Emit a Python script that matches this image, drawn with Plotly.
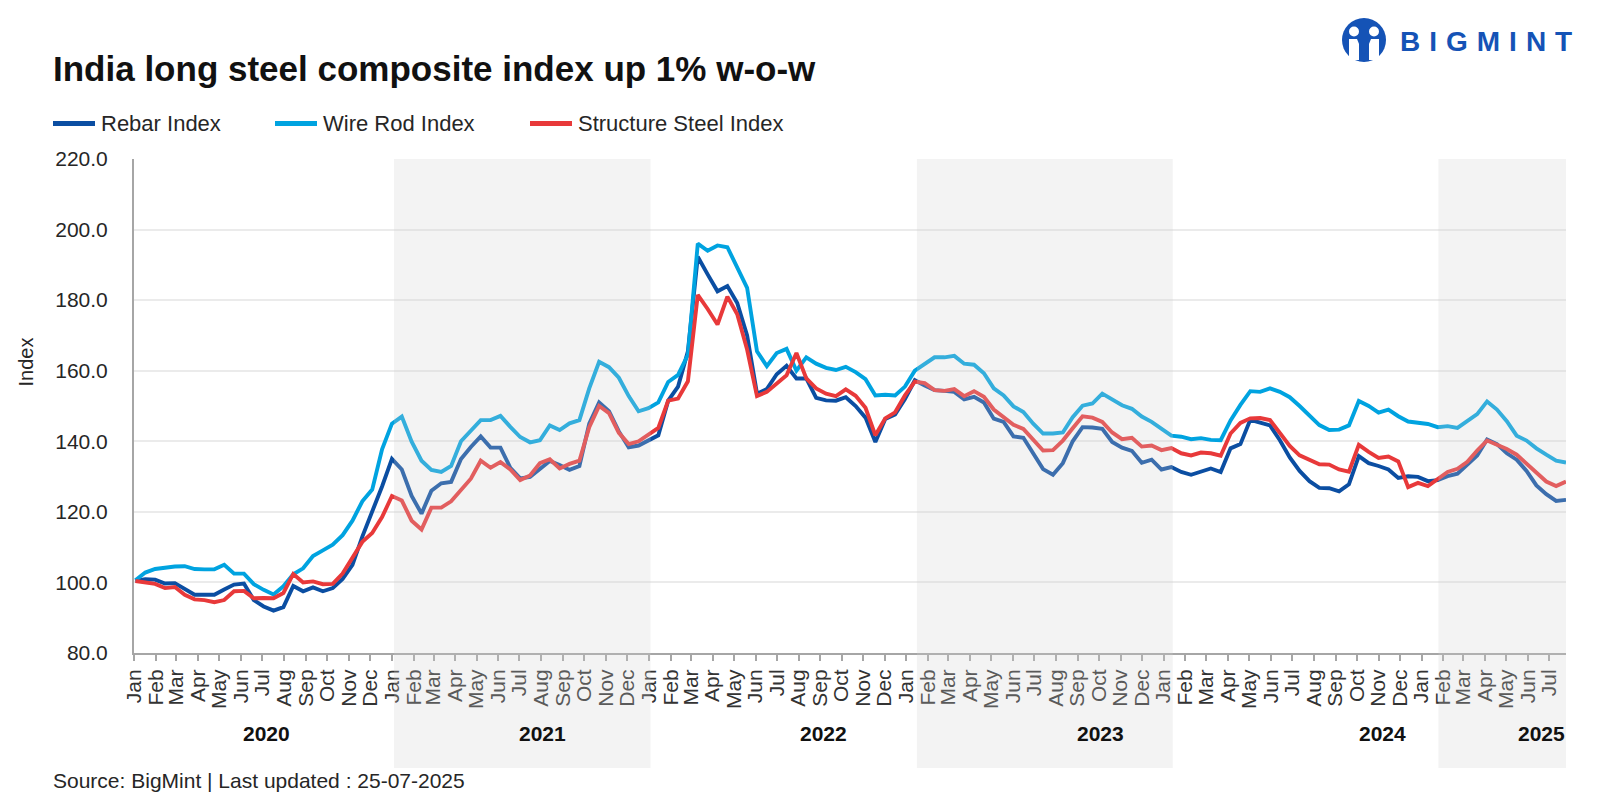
import plotly.graph_objects as go
import pandas as pd

# ---------------- data ----------------
dates = pd.date_range("2020-01-03", periods=146, freq="14D")

rebar = [
    100.4, 100.9, 100.8, 99.7, 99.8, 98.2, 96.5, 96.5, 96.5, 98.0,
    99.4, 99.7, 95.0, 93.2, 92.0, 93.0, 99.0, 97.5, 98.6, 97.5,
    98.4, 101.0, 105.0, 113.0, 120.0, 127.2, 135.0, 132.0, 124.5, 119.5,
    126.0, 128.1, 128.5, 135.0, 138.4, 141.4, 138.2, 138.2, 132.5, 129.5,
    129.9, 132.3, 134.4, 133.3, 131.9, 133.0, 145.0, 151.0, 148.5, 142.8,
    138.3, 138.8, 140.3, 141.7, 151.5, 155.5, 165.5, 192.3, 187.3, 182.5,
    184.0, 179.2, 170.0, 153.5, 154.8, 159.0, 161.4, 157.8, 157.8, 152.3,
    151.6, 151.5, 152.5, 150.0, 146.7, 139.8, 146.3, 147.6, 152.0, 157.3,
    155.8, 154.5, 154.3, 154.0, 151.9, 152.6, 151.0, 146.4, 145.5, 141.4,
    141.0, 136.6, 132.1, 130.5, 133.8, 140.0, 144.0, 143.9, 143.5, 139.8,
    138.2, 137.3, 133.9, 134.8, 132.0, 132.7, 131.3, 130.5, 131.5, 132.3,
    131.3, 138.0, 139.2, 146.1, 145.3, 144.5, 140.3, 135.4, 131.6, 128.7,
    126.8, 126.7, 125.8, 127.8, 135.8, 133.8, 133.0, 132.0, 129.6, 130.1,
    129.9, 128.7, 129.0, 130.1, 130.8, 133.4, 136.0, 140.5, 139.2, 136.6,
    134.8, 131.6, 127.5, 125.0, 123.1, 123.4,
]

wire_rod = [
    100.6, 102.8, 103.8, 104.2, 104.5, 104.6, 103.8, 103.7, 103.7, 105.0,
    102.5, 102.5, 99.5, 97.9, 96.6, 98.9, 102.3, 104.0, 107.5, 109.1,
    110.7, 113.4, 117.5, 123.0, 126.3, 137.7, 145.0, 147.0, 139.9, 134.5,
    131.9, 131.3, 133.0, 140.0, 143.0, 146.0, 146.0, 147.2, 144.1, 141.2,
    139.7, 140.3, 144.5, 143.2, 145.1, 146.0, 155.0, 162.5, 161.0, 158.0,
    152.8, 148.5, 149.4, 151.0, 156.8, 158.8, 164.5, 196.0, 194.0, 195.5,
    195.0, 189.0, 183.5, 165.5, 161.3, 165.0, 166.2, 160.0, 163.8, 162.0,
    160.8, 160.2, 161.1, 159.6, 157.6, 153.0, 153.2, 153.0, 155.5, 160.0,
    162.0, 163.8, 163.8, 164.2, 162.0, 161.7, 159.3, 155.0, 153.0, 149.9,
    148.3, 145.0, 142.2, 142.2, 142.5, 146.8, 150.1, 150.7, 153.5, 151.8,
    150.2, 149.2, 147.0, 145.5, 143.4, 141.6, 141.3, 140.6, 140.9, 140.4,
    140.3, 145.9, 150.3, 154.2, 154.0, 155.0, 154.0, 152.5, 150.0, 147.2,
    144.6, 143.2, 143.3, 144.5, 151.4, 150.0, 148.1, 149.0, 147.1, 145.6,
    145.3, 144.9, 144.0, 144.3, 143.8, 145.6, 147.7, 151.3, 149.0, 145.7,
    141.6, 140.2, 138.0, 136.2, 134.5, 134.0,
]

structure_steel = [
    100.4, 100.0, 99.6, 98.4, 98.7, 96.5, 95.2, 95.0, 94.4, 95.0,
    97.5, 97.6, 95.5, 95.6, 95.5, 97.0, 102.4, 100.0, 100.3, 99.5,
    99.6, 102.5, 106.8, 111.5, 114.0, 118.5, 124.5, 123.2, 117.5, 115.0,
    121.2, 121.2, 123.0, 126.2, 129.4, 134.5, 132.5, 134.1, 132.0, 129.0,
    130.3, 133.8, 134.9, 132.3, 133.6, 134.5, 144.0, 150.0, 148.0, 142.4,
    139.2, 140.0, 141.8, 143.8, 151.5, 152.1, 157.0, 181.5, 177.5, 173.1,
    181.0, 176.0, 166.0, 152.8, 154.0, 156.4, 158.7, 165.0, 157.8, 155.0,
    153.5, 152.8, 154.7, 152.9, 149.5, 141.7, 146.5, 148.2, 153.0, 156.9,
    156.5, 154.5, 154.3, 154.8, 152.8, 154.2, 152.6, 149.0, 147.0, 144.7,
    143.5, 140.5, 137.4, 137.5, 140.2, 143.7, 147.1, 146.7, 145.5, 142.5,
    140.6, 141.0, 138.5, 138.8, 137.5, 138.1, 136.6, 136.0, 136.8, 136.6,
    135.9, 142.2, 145.2, 146.5, 146.6, 146.0, 142.3, 138.7, 136.0, 134.7,
    133.5, 133.4, 132.0, 131.4, 139.0, 137.0, 135.3, 135.7, 134.3, 127.0,
    128.2, 127.3, 129.3, 131.3, 132.2, 134.2, 137.4, 140.2, 139.0, 137.8,
    136.2, 133.6, 131.0, 128.6, 127.3, 128.6,
]

series_names = ["Rebar Index", "Wire Rod Index", "Structure Steel Index"]
series_values = [rebar, wire_rod, structure_steel]
series_colors = ["#0B4EA2", "#00A3E0", "#E8393A"]

month_ticks = pd.date_range("2020-01-01", "2025-07-01", freq="MS")
month_labels = [d.strftime("%b") for d in month_ticks]

year_labels = ["2020", "2021", "2022", "2023", "2024", "2025"]
year_label_dates = ["2020-07-07", "2021-08-02", "2022-09-06",
                    "2023-10-03", "2024-11-06", "2025-06-20"]
shade_starts = ["2021-01-04", "2023-01-16", "2025-01-25"]
shade_ends = ["2022-01-03", "2024-01-14", "2025-07-25"]

y_ticks = [80, 100, 120, 140, 160, 180, 200, 220]

title_text = "India long steel composite index up 1% w-o-w"
source_text = "Source: BigMint | Last updated : 25-07-2025"

# ---------------- layout helpers ----------------
W, H = 1599, 798
L, R, T, B = 134, 33, 159, 145
PW, PH = W - L - R, H - T - B


def fx(px):
    return (px - L) / PW


def fy(py):
    return (H - B - py) / PH


FONT = "Liberation Sans, Arial, sans-serif"

fig = go.Figure()
for name, vals, col in zip(series_names, series_values, series_colors):
    fig.add_trace(go.Scatter(
        x=dates, y=vals, name=name, mode="lines",
        line=dict(color=col, width=3.9), showlegend=False,
    ))

shapes = []
# alternating year shading (semi-transparent overlay above the data)
for s, e in zip(shade_starts, shade_ends):
    shapes.append(dict(type="rect", xref="x", yref="paper", x0=s, x1=e,
                       y0=fy(768), y1=1, layer="above",
                       fillcolor="rgba(207,207,207,0.25)", line=dict(width=0)))

annotations = []
# custom legend
legend_lines = [(53, 95), (275, 317), (530, 572)]
for (x0, x1), name, col in zip(legend_lines, series_names, series_colors):
    shapes.append(dict(type="line", xref="paper", yref="paper",
                       x0=fx(x0), x1=fx(x1), y0=fy(123.5), y1=fy(123.5),
                       line=dict(color=col, width=5)))
    annotations.append(dict(xref="paper", yref="paper", x=fx(x1 + 4), y=fy(123.5),
                            xanchor="left", yanchor="middle", showarrow=False,
                            text=name, font=dict(family=FONT, size=22, color="#262626")))

# year labels
for lab, d in zip(year_labels, year_label_dates):
    annotations.append(dict(xref="x", yref="paper", x=d, y=fy(733),
                            xanchor="center", yanchor="middle", showarrow=False,
                            text="<b>" + lab + "</b>",
                            font=dict(family=FONT, size=21, color="#111111")))

# title, y title, source
annotations.append(dict(xref="paper", yref="paper", x=fx(51), y=fy(69),
                        xanchor="left", yanchor="middle", showarrow=False,
                        text="<b>" + title_text + "</b>",
                        font=dict(family=FONT, size=35, color="#111111")))
annotations.append(dict(xref="paper", yref="paper", x=fx(25.5), y=fy(362),
                        xanchor="center", yanchor="middle", showarrow=False,
                        textangle=-90, text="Index",
                        font=dict(family=FONT, size=20, color="#262626")))
annotations.append(dict(xref="paper", yref="paper", x=fx(51), y=fy(780),
                        xanchor="left", yanchor="middle", showarrow=False,
                        text=source_text,
                        font=dict(family=FONT, size=21, color="#262626")))

# logo
LOGO = "#1553B6"
shapes.append(dict(type="circle", xref="paper", yref="paper",
                   x0=fx(1342), x1=fx(1386), y0=fy(62), y1=fy(18),
                   fillcolor=LOGO, line=dict(width=0), layer="above"))
for cx in (1354, 1374):
    shapes.append(dict(type="circle", xref="paper", yref="paper",
                       x0=fx(cx - 5), x1=fx(cx + 5), y0=fy(36.5), y1=fy(26.5),
                       fillcolor="white", line=dict(width=0), layer="above"))
    shapes.append(dict(type="rect", xref="paper", yref="paper",
                       x0=fx(cx - 5), x1=fx(cx + 5), y0=fy(60), y1=fy(39),
                       fillcolor="white", line=dict(width=0), layer="above"))
shapes.append(dict(type="path", xref="paper", yref="paper",
                   path="M {} {} L {} {} L {} {} Z".format(
                       fx(1357), fy(39), fx(1371), fy(39), fx(1364), fy(56)),
                   fillcolor=LOGO, line=dict(width=0), layer="above"))
annotations.append(dict(xref="paper", yref="paper", x=fx(1398), y=fy(41.5),
                        xanchor="left", yanchor="middle", showarrow=False,
                        text='<b><span style="letter-spacing:9px">BIGMINT</span></b>',
                        font=dict(family=FONT, size=28, color=LOGO)))

fig.update_layout(
    width=W, height=H,
    margin=dict(l=L, r=R, t=T, b=B),
    paper_bgcolor="white", plot_bgcolor="white",
    shapes=shapes, annotations=annotations,
    xaxis=dict(
        type="date", range=["2020-01-01", "2025-07-25"],
        tickmode="array", tickvals=month_ticks, ticktext=month_labels,
        tickangle=-90, ticks="outside", ticklen=6, tickwidth=1.5,
        tickcolor="#A6A6A6", showline=True, linecolor="#A6A6A6", linewidth=2,
        showgrid=False, zeroline=False,
        tickfont=dict(family=FONT, size=21, color="#333333"),
    ),
    yaxis=dict(
        range=[80, 220], tickmode="array", tickvals=y_ticks, tickformat=".1f",
        showgrid=True, gridcolor="#EBEBEB", gridwidth=1.5,
        showline=True, linecolor="#A6A6A6", linewidth=2, zeroline=False,
        ticks="", ticklabelstandoff=20,
        tickfont=dict(family=FONT, size=21, color="#262626"),
    ),
)

fig.write_html("out.html", config={"displayModeBar": False},
               post_script="document.body.style.margin='0px';")
